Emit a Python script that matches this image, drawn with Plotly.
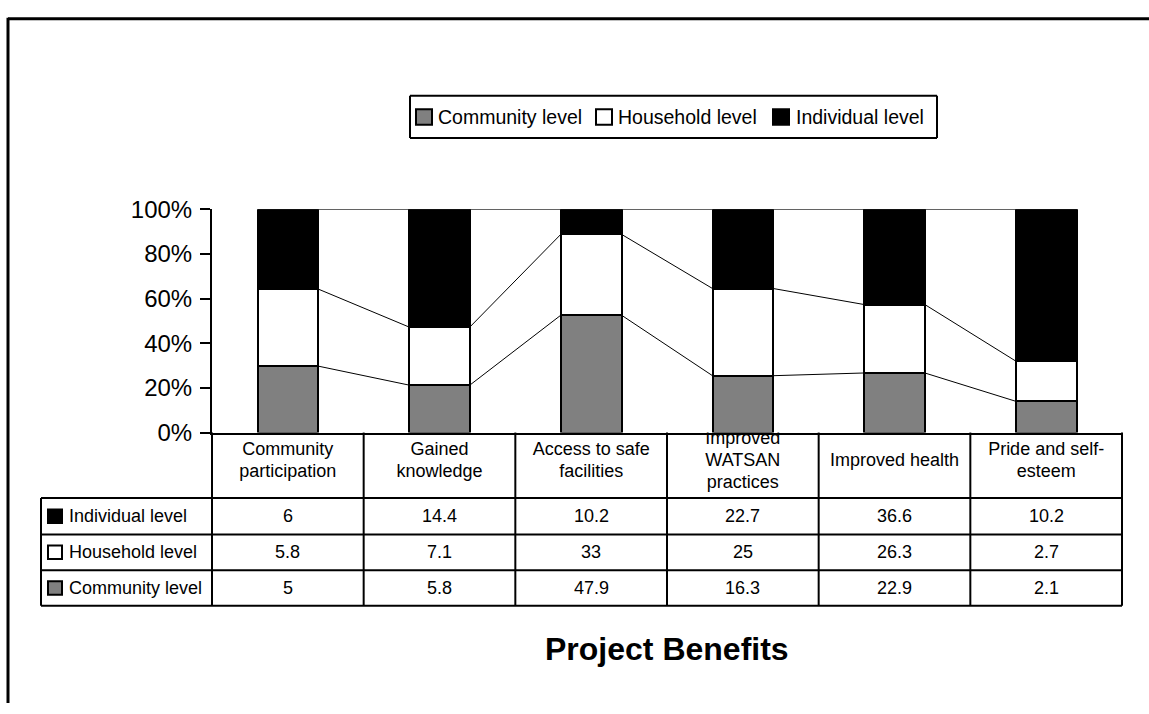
import plotly.graph_objects as go

# ---- data -------------------------------------------------------------
categories = ["Community participation", "Gained knowledge", "Access to safe facilities",
              "Improved WATSAN practices", "Improved health", "Pride and self-esteem"]
# category captions as they wrap inside the table header cells
header_lines = [["Community", "participation"], ["Gained", "knowledge"],
                ["Access to safe", "facilities"], ["Improved", "WATSAN", "practices"],
                ["Improved health"], ["Pride and self-", "esteem"]]
series_names = ["Community level", "Household level", "Individual level"]
community = [5, 5.8, 47.9, 16.3, 22.9, 2.1]
household = [5.8, 7.1, 33, 25, 26.3, 2.7]
individual = [6, 14.4, 10.2, 22.7, 36.6, 10.2]
y_ticks = [0, 20, 40, 60, 80, 100]
x_title = "Project Benefits"

series_values = [community, household, individual]
series_fill = ["#808080", "#ffffff", "#000000"]

# ---- geometry (pixels on the 1149 x 714 page) ------------------------
W, H = 1149, 714
X0, X1 = 212, 1122          # plot area / table data columns
Y_TOP, Y_BOT = 203, 435      # 100% and 0%
TABLE_L = 41
HEAD_BOT = 503
ROW_EDGES = [503, 541, 578, 615]
N = len(categories)
CW = (X1 - X0) / N
BAR_W = 0.4

FONT = "Liberation Sans, Arial, sans-serif"
TABLE_SIZE = 18
LEGEND_SIZE = 19.5


def fx(x):
    return x / W


def fy(y):
    return 1 - y / H


fig = go.Figure()

# stacked 100% columns
for name, vals, fill in zip(series_names, series_values, series_fill):
    fig.add_trace(go.Bar(
        x=list(range(N)), y=vals, name=name, width=BAR_W,
        marker=dict(color=fill, line=dict(color="black", width=2)),
        cliponaxis=False, hoverinfo="skip", showlegend=False,
    ))

# series lines joining the segment tops of neighbouring columns
totals = [sum(v) for v in zip(*series_values)]
running = [0.0] * N
for vals in series_values:
    running = [r + v for r, v in zip(running, vals)]
    pct = [100 * r / t for r, t in zip(running, totals)]
    xs, ys = [], []
    for i in range(N - 1):
        xs += [i + BAR_W / 2, i + 1 - BAR_W / 2, None]
        ys += [pct[i], pct[i + 1], None]
    fig.add_trace(go.Scatter(
        x=xs, y=ys, mode="lines", line=dict(color="black", width=1),
        cliponaxis=False, hoverinfo="skip", showlegend=False,
    ))

# category captions in the header row (clipped to the cell height)
LINE_GAP = 23
HEAD_SHIFT = 4    # text block centre relative to the cell centre (px, up positive)
hx, hy, ht = [], [], []
for i, lines in enumerate(header_lines):
    n = len(lines)
    for k, line in enumerate(lines):
        hx.append(i)
        hy.append(HEAD_SHIFT + ((n - 1) / 2 - k) * LINE_GAP)
        ht.append(line)
fig.add_trace(go.Scatter(
    x=hx, y=hy, text=ht, mode="text", textposition="middle center",
    textfont=dict(family=FONT, size=TABLE_SIZE, color="black"),
    xaxis="x2", yaxis="y2", cliponaxis=True, hoverinfo="skip", showlegend=False,
))

shapes = []
annotations = []


def hline(y, xa, xb, w=2):
    shapes.append(dict(type="line", xref="paper", yref="paper",
                       x0=fx(xa), x1=fx(xb), y0=fy(y), y1=fy(y),
                       line=dict(color="black", width=w)))


def vline(x, ya, yb, w=2):
    shapes.append(dict(type="line", xref="paper", yref="paper",
                       x0=fx(x), x1=fx(x), y0=fy(ya), y1=fy(yb),
                       line=dict(color="black", width=w)))


def swatch(xl, yc, size, fill):
    shapes.append(dict(type="rect", xref="paper", yref="paper",
                       x0=fx(xl), x1=fx(xl + size),
                       y0=fy(yc - size / 2), y1=fy(yc + size / 2),
                       fillcolor=fill, line=dict(color="black", width=2)))


# outer chart frame
hline(5, 8, W + 2, w=3)
vline(8, 4, H + 2, w=3)

# data table grid
for y in ROW_EDGES:
    hline(y, TABLE_L, X1)
vline(TABLE_L, HEAD_BOT, ROW_EDGES[-1])
for k in range(N + 1):
    vline(X0 + k * CW, Y_BOT, ROW_EDGES[-1])

# table rows: top row is the top series
row_order = list(range(len(series_names)))[::-1]
for r, s in enumerate(row_order):
    yc = (ROW_EDGES[r] + ROW_EDGES[r + 1]) / 2
    swatch(48, yc, 14, series_fill[s])
    annotations.append(dict(
        x=fx(67), y=fy(yc), xref="paper", yref="paper", xanchor="left", yanchor="middle",
        text=series_names[s], showarrow=False,
        font=dict(family=FONT, size=TABLE_SIZE, color="black")))
    for i, v in enumerate(series_values[s]):
        annotations.append(dict(
            x=fx(X0 + (i + 0.5) * CW), y=fy(yc), xref="paper", yref="paper",
            xanchor="center", yanchor="middle", text=f"{v:g}", showarrow=False,
            font=dict(family=FONT, size=TABLE_SIZE, color="black")))

# legend box
hline(85, 410, 937)
hline(129, 410, 937)
vline(410, 85, 129)
vline(937, 85, 129)
LEG_Y = 107
leg_pos = [(416, 436), (596, 616), (773, 794)]
for (sx, tx), name, fill in zip(leg_pos, series_names, series_fill):
    swatch(sx, LEG_Y, 16, fill)
    annotations.append(dict(
        x=fx(tx), y=fy(LEG_Y), xref="paper", yref="paper", xanchor="left", yanchor="middle",
        text=name, showarrow=False, font=dict(family=FONT, size=LEGEND_SIZE, color="black")))

# axis title under the table
annotations.append(dict(
    x=fx((X0 + X1) / 2), y=fy(660), xref="paper", yref="paper",
    xanchor="center", yanchor="middle", text=f"<b>{x_title}</b>", showarrow=False,
    font=dict(family=FONT, size=32, color="black")))

fig.update_layout(
    width=W, height=H, margin=dict(l=0, r=0, t=0, b=0),
    paper_bgcolor="white", plot_bgcolor="white",
    barmode="stack", barnorm="percent", bargap=0.6,
    showlegend=False,
    xaxis=dict(domain=[fx(X0), fx(X1)], range=[-0.5, N - 0.5], showticklabels=False,
               ticks="", showgrid=False, zeroline=False, showline=True,
               linecolor="black", linewidth=2, fixedrange=True),
    yaxis=dict(domain=[fy(Y_BOT), fy(Y_TOP)], range=[0, 100], tickvals=y_ticks,
               ticktext=[f"{v}%" for v in y_ticks], ticks="outside", ticklen=10,
               tickwidth=2, tickcolor="black", showline=True, linecolor="black",
               linewidth=2, showgrid=False, zeroline=False, ticklabelstandoff=3,
               tickfont=dict(family=FONT, size=24, color="black"), fixedrange=True),
    xaxis2=dict(domain=[fx(X0), fx(X1)], range=[-0.5, N - 0.5], anchor="y2",
                visible=False, fixedrange=True),
    yaxis2=dict(domain=[fy(HEAD_BOT), fy(Y_BOT)],
                range=[-(HEAD_BOT - Y_BOT) / 2, (HEAD_BOT - Y_BOT) / 2],
                anchor="x2", visible=False, fixedrange=True),
    shapes=shapes,
    annotations=annotations,
)

fig.write_html("out.html")
